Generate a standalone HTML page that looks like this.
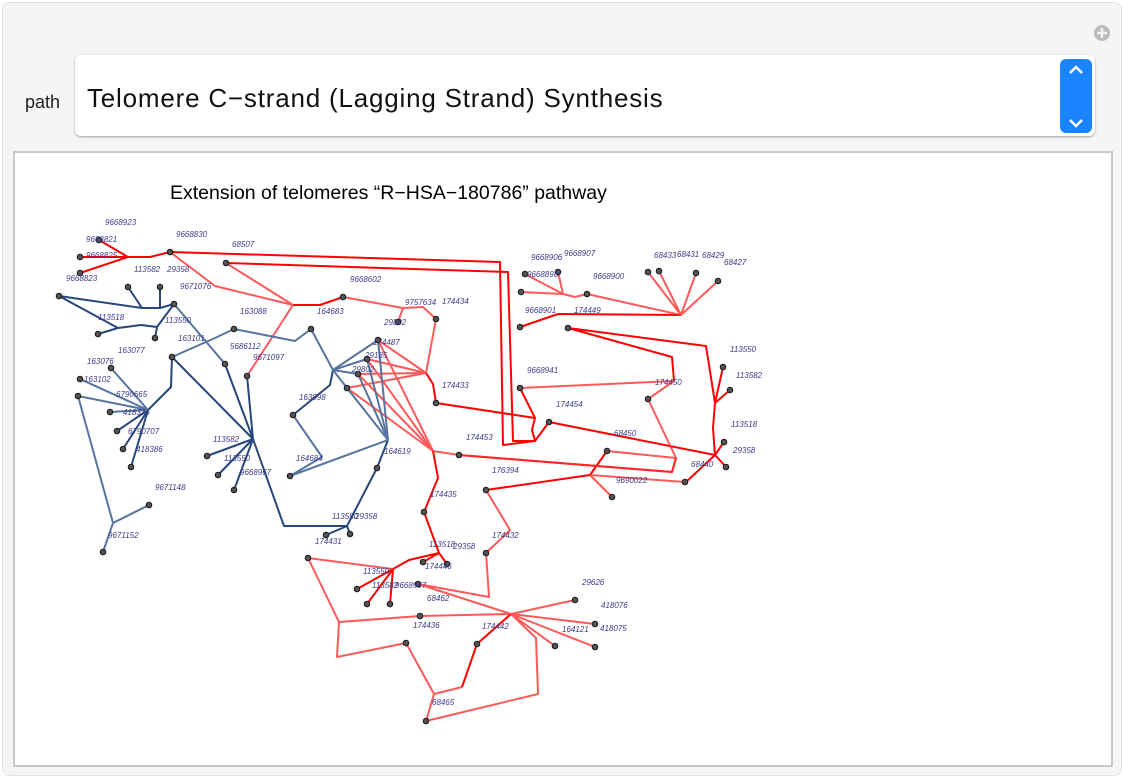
<!DOCTYPE html>
<html><head><meta charset="utf-8"><style>
body{margin:0;width:1124px;height:780px;background:#fff;font-family:"Liberation Sans",sans-serif;overflow:hidden}
.panel{position:absolute;left:2px;top:2px;width:1118px;height:772px;background:#f5f5f5;border:1px solid #e2e2e2;border-radius:8px}
.lbl{position:absolute;left:25px;top:92px;font-size:18px;color:#222}
.box{position:absolute;left:75px;top:55px;width:1020px;height:81px;background:#fff;border-radius:6px;box-shadow:0 1px 2px rgba(0,0,0,.35)}
.box span{position:absolute;left:12px;top:28px;font-size:26px;letter-spacing:0.8px;color:#111}
.spin{position:absolute;left:1060px;top:59px;width:32px;height:74px;background:#1a84ff;border-radius:6px}
.frame{position:absolute;left:13px;top:151px;width:1096px;height:612px;background:#fff;border:2px solid #c8c8c8}
svg{position:absolute;left:0;top:0}
</style></head><body>
<div class="panel"></div>
<div class="lbl">path</div>
<div class="box"><span>Telomere C−strand (Lagging Strand) Synthesis</span></div>
<div class="spin"><svg width="32" height="74"><polyline points="10,14 16,8 22,14" fill="none" stroke="#fff" stroke-width="2.5"/><polyline points="10,61 16,67 22,61" fill="none" stroke="#fff" stroke-width="2.5"/></svg></div>
<svg width="1124" height="780" style="position:absolute;left:0;top:0"><circle cx="1102" cy="33" r="8" fill="#bcbcbc"/><path d="M1102 28v10M1097 33h10" stroke="#f5f5f5" stroke-width="2.5"/></svg>
<div class="frame"></div>
<svg width="1124" height="780">
<text x="170" y="199" font-size="19.5" fill="#000" font-family="Liberation Sans">Extension of telomeres “R−HSA−180786” pathway</text>
<g fill="none" stroke-linejoin="round">
<g stroke="#ff0000" stroke-width="2">
<polyline points="99,240 128,257 150,257 170,252 500,262 503,445 535,441"/>
<polyline points="80,257 128,257"/><polyline points="80,273 128,257"/>
<polyline points="226,263 508,272 513,441 535,441 532,430 535,418 520,388"/>
<polyline points="535,441 549,422"/>
<polyline points="436,403 535,418"/>
<polyline points="293,305 320,305 343,297"/>
<polyline points="426,373 433,384 436,403"/>
<polyline points="433,451 438,478 424,512 439,553 409,560 393,569"/>
<polyline points="393,569 357,589"/><polyline points="393,569 367,604"/><polyline points="393,569 390,604"/>
<polyline points="439,553 447,564"/><polyline points="439,553 423,562"/>
<polyline points="477,644 511,614"/><polyline points="462,687 477,644"/>
<polyline points="486,490 590,475 607,451"/>
<polyline points="459,455 672,472 676,458"/>
<polyline points="686,482 715,455 724,442"/><polyline points="715,455 726,467"/>
<polyline points="549,422 715,455"/>
<polyline points="715,455 713,428 715,403 723,367"/><polyline points="715,403 730,390"/>
<polyline points="715,403 706,346 568,328 672,357 674,381"/>
<polyline points="520,327 558,314 681,315"/>
</g>
<g stroke="#ff3030" stroke-width="2" opacity="0.8">
<polyline points="170,252 215,286 293,305 226,263"/>
<polyline points="293,305 247,376"/>
<polyline points="343,297 403,308 423,307 436,319 426,373"/>
<polyline points="403,308 398,322"/>
<polyline points="378,340 426,373"/><polyline points="367,359 426,373"/><polyline points="358,374 426,373"/><polyline points="347,388 426,373"/>
<polyline points="378,340 433,451"/><polyline points="367,359 433,451"/><polyline points="358,374 433,451"/><polyline points="347,388 433,451"/>
<polyline points="433,451 459,455"/>
<polyline points="393,569 308,558 339,622 337,657 406,643 434,694 462,687"/>
<polyline points="434,694 426,721 538,694 536,638 511,614"/>
<polyline points="339,622 420,616 511,614"/>
<polyline points="511,614 575,600"/><polyline points="511,614 595,624"/><polyline points="511,614 595,647"/><polyline points="511,614 555,646"/>
<polyline points="511,614 418,584 489,597 486,553 510,530 486,490"/>
<polyline points="607,451 676,458 672,472 459,455"/>
<polyline points="590,475 612,497"/><polyline points="590,475 685,482"/>
<polyline points="674,381 520,388"/><polyline points="674,381 648,399 676,458"/>
<polyline points="681,315 648,272"/><polyline points="681,315 659,271"/><polyline points="681,315 696,273"/><polyline points="681,315 718,281"/>
<polyline points="681,315 587,294 575,297 563,294 525,274"/><polyline points="563,294 558,272"/><polyline points="563,294 521,292"/>
</g>
<g stroke="#27467a" stroke-width="2">
<polyline points="59,296 142,308 160,308 174,304"/>
<polyline points="59,296 118,328 141,325 157,327 174,304"/>
<polyline points="128,287 142,308"/><polyline points="160,287 160,308"/>
<polyline points="157,327 155,338"/><polyline points="98,334 118,328"/>
<polyline points="148,410 171,387 172,357 253,439"/>
<polyline points="148,410 131,467"/><polyline points="148,410 123,449"/><polyline points="148,410 117,431"/>
<polyline points="333,370 330,385 293,415"/>
<polyline points="388,440 377,468 347,526 284,526 253,439"/>
<polyline points="253,439 207,456"/><polyline points="253,439 218,475"/><polyline points="253,439 234,490"/><polyline points="253,439 247,376"/><polyline points="253,439 225,364"/>
<polyline points="347,526 326,535"/><polyline points="347,526 350,534"/>
</g>
<g stroke="#5774a0" stroke-width="2">
<polyline points="148,410 111,368"/><polyline points="148,410 80,379"/><polyline points="148,410 110,412"/><polyline points="148,410 78,396 113,523 149,505"/>
<polyline points="113,523 103,552"/>
<polyline points="174,304 225,364"/>
<polyline points="172,357 215,338 234,329 295,341 311,329 333,370"/>
<polyline points="293,415 322,457 290,476 388,440"/>
<polyline points="333,370 378,340"/><polyline points="333,370 367,359"/><polyline points="333,370 358,374"/><polyline points="333,370 347,388"/>
<polyline points="378,340 388,440"/><polyline points="367,359 388,440"/><polyline points="358,374 388,440"/><polyline points="347,388 388,440"/>
</g>
</g>
<g fill="#555" stroke="#222" stroke-width="1.2">
<circle cx="99" cy="240" r="2.7"/><circle cx="80" cy="257" r="2.7"/><circle cx="80" cy="273" r="2.7"/><circle cx="170" cy="252" r="2.7"/><circle cx="226" cy="263" r="2.7"/>
<circle cx="343" cy="297" r="2.7"/><circle cx="398" cy="322" r="2.7"/><circle cx="436" cy="319" r="2.7"/><circle cx="436" cy="403" r="2.7"/><circle cx="378" cy="340" r="2.7"/><circle cx="367" cy="359" r="2.7"/><circle cx="358" cy="374" r="2.7"/><circle cx="347" cy="388" r="2.7"/>
<circle cx="459" cy="455" r="2.7"/><circle cx="424" cy="512" r="2.7"/><circle cx="447" cy="564" r="2.7"/><circle cx="423" cy="562" r="2.7"/><circle cx="357" cy="589" r="2.7"/><circle cx="367" cy="604" r="2.7"/><circle cx="390" cy="604" r="2.7"/><circle cx="308" cy="558" r="2.7"/>
<circle cx="420" cy="616" r="2.7"/><circle cx="406" cy="643" r="2.7"/><circle cx="477" cy="644" r="2.7"/><circle cx="426" cy="721" r="2.7"/><circle cx="418" cy="584" r="2.7"/><circle cx="486" cy="553" r="2.7"/><circle cx="486" cy="490" r="2.7"/>
<circle cx="575" cy="600" r="2.7"/><circle cx="595" cy="624" r="2.7"/><circle cx="595" cy="647" r="2.7"/><circle cx="555" cy="646" r="2.7"/>
<circle cx="607" cy="451" r="2.7"/><circle cx="612" cy="497" r="2.7"/><circle cx="685" cy="482" r="2.7"/><circle cx="724" cy="442" r="2.7"/><circle cx="726" cy="467" r="2.7"/><circle cx="723" cy="367" r="2.7"/><circle cx="730" cy="390" r="2.7"/>
<circle cx="568" cy="328" r="2.7"/><circle cx="520" cy="388" r="2.7"/><circle cx="648" cy="399" r="2.7"/><circle cx="549" cy="422" r="2.7"/><circle cx="520" cy="327" r="2.7"/>
<circle cx="648" cy="272" r="2.7"/><circle cx="659" cy="271" r="2.7"/><circle cx="696" cy="273" r="2.7"/><circle cx="718" cy="281" r="2.7"/><circle cx="587" cy="294" r="2.7"/><circle cx="525" cy="274" r="2.7"/><circle cx="558" cy="272" r="2.7"/><circle cx="521" cy="292" r="2.7"/>
<circle cx="59" cy="296" r="2.7"/><circle cx="128" cy="287" r="2.7"/><circle cx="160" cy="287" r="2.7"/><circle cx="174" cy="304" r="2.7"/><circle cx="155" cy="338" r="2.7"/><circle cx="98" cy="334" r="2.7"/>
<circle cx="111" cy="368" r="2.7"/><circle cx="80" cy="379" r="2.7"/><circle cx="110" cy="412" r="2.7"/><circle cx="117" cy="431" r="2.7"/><circle cx="123" cy="449" r="2.7"/><circle cx="131" cy="467" r="2.7"/><circle cx="78" cy="396" r="2.7"/><circle cx="149" cy="505" r="2.7"/><circle cx="103" cy="552" r="2.7"/>
<circle cx="172" cy="357" r="2.7"/><circle cx="234" cy="329" r="2.7"/><circle cx="311" cy="329" r="2.7"/><circle cx="225" cy="364" r="2.7"/><circle cx="247" cy="376" r="2.7"/><circle cx="293" cy="415" r="2.7"/><circle cx="290" cy="476" r="2.7"/><circle cx="377" cy="468" r="2.7"/>
<circle cx="207" cy="456" r="2.7"/><circle cx="218" cy="475" r="2.7"/><circle cx="234" cy="490" r="2.7"/><circle cx="326" cy="535" r="2.7"/><circle cx="350" cy="534" r="2.7"/>
</g>
<g font-size="8" font-style="italic" fill="#3c3c8c" font-family="Liberation Sans">
<text x="105" y="225">9668923</text><text x="86" y="242">9668821</text><text x="176" y="237">9668830</text><text x="86" y="258">9668825</text><text x="232" y="247">68507</text><text x="134" y="272">113582</text><text x="167" y="272">29358</text><text x="66" y="281">9668823</text><text x="180" y="289">9671076</text>
<text x="350" y="282">9668602</text><text x="405" y="305">9757634</text><text x="442" y="304">174434</text><text x="98" y="320">113518</text><text x="165" y="323">113550</text><text x="240" y="314">163088</text><text x="317" y="314">164683</text><text x="384" y="325">29802</text>
<text x="118" y="353">163077</text><text x="178" y="341">163101</text><text x="230" y="349">5686112</text><text x="253" y="360">9671097</text><text x="373" y="345">174487</text><text x="87" y="364">163076</text><text x="365" y="358">29185</text><text x="84" y="382">163102</text><text x="352" y="372">29802</text>
<text x="116" y="397">6790665</text><text x="442" y="388">174433</text><text x="123" y="415">418376</text><text x="299" y="400">163098</text><text x="128" y="434">6790707</text><text x="136" y="452">418386</text><text x="213" y="442">113582</text><text x="224" y="461">113550</text><text x="240" y="475">9668967</text>
<text x="296" y="461">164684</text><text x="384" y="454">164619</text><text x="155" y="490">9671148</text><text x="332" y="519">113550</text><text x="355" y="519">29358</text><text x="315" y="544">174431</text><text x="108" y="538">9671152</text><text x="430" y="497">174435</text>
<text x="531" y="260">9668906</text><text x="564" y="256">9668907</text><text x="527" y="277">9668898</text><text x="593" y="279">9668900</text><text x="654" y="258">68433</text><text x="677" y="257">68431</text><text x="702" y="258">68429</text><text x="724" y="265">68427</text>
<text x="525" y="313">9668901</text><text x="574" y="313">174449</text><text x="730" y="352">113550</text><text x="736" y="378">113582</text><text x="527" y="373">9668941</text><text x="655" y="385">174450</text><text x="556" y="407">174454</text><text x="731" y="427">113518</text><text x="614" y="436">68450</text><text x="733" y="453">29358</text>
<text x="466" y="440">174453</text><text x="691" y="467">68440</text><text x="492" y="473">176394</text><text x="616" y="483">9690022</text><text x="492" y="538">174432</text><text x="429" y="547">113518</text><text x="453" y="549">29358</text><text x="363" y="574">113550</text><text x="372" y="588">113582</text><text x="395" y="588">9668967</text><text x="425" y="569">174446</text><text x="427" y="601">68462</text>
<text x="582" y="585">29626</text><text x="601" y="608">418076</text><text x="413" y="628">174436</text><text x="482" y="629">174442</text><text x="562" y="632">164121</text><text x="600" y="631">418075</text><text x="432" y="705">68465</text>
</g>
</svg>
</body></html>
